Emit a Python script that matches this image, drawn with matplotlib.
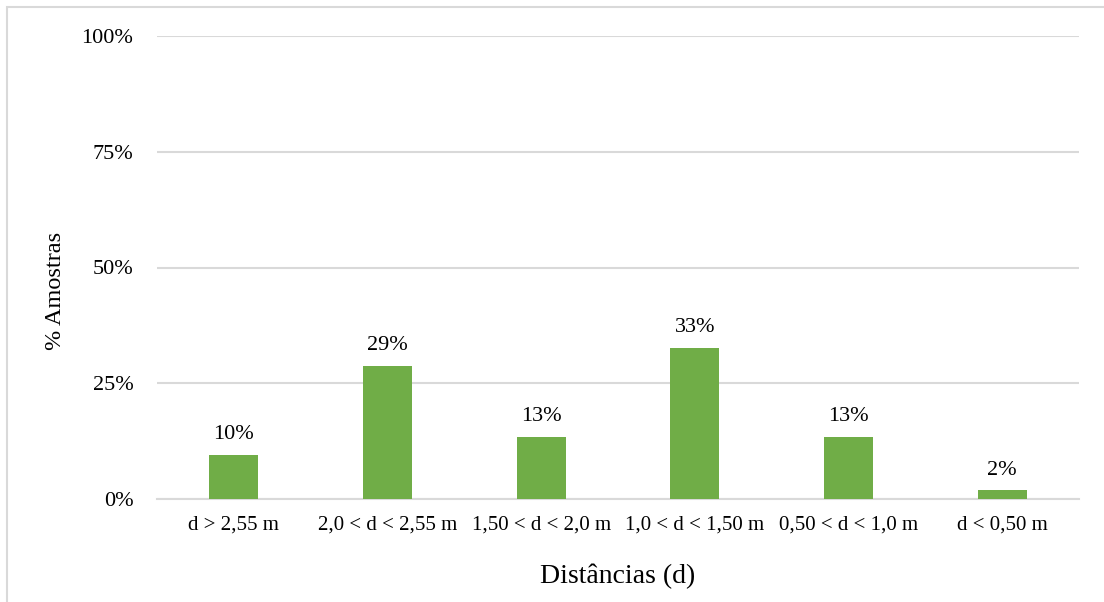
import matplotlib
matplotlib.use("Agg")
import matplotlib.pyplot as plt
from matplotlib.patches import Rectangle
from matplotlib.ticker import FuncFormatter

categories = ["d > 2,55 m", "2,0 < d < 2,55 m", "1,50 < d < 2,0 m",
              "1,0 < d < 1,50 m", "0,50 < d < 1,0 m", "d < 0,50 m"]
shares = [9.6, 28.8, 13.4, 32.7, 13.4, 1.9]   # % of samples
y_ticks = [0, 25, 50, 75, 100]

plt.rcParams["font.family"] = ["Liberation Serif", "DejaVu Serif"]

fig = plt.figure(figsize=(11.04, 6.02), dpi=100)
fig.patch.set_facecolor("white")

# outer frame (only top and left edges fall inside the canvas)
fig.patches.append(Rectangle((7 / 1104, -0.05), 1.2, (1 - 7 / 602) + 0.05,
                             transform=fig.transFigure, fill=False,
                             edgecolor="#d9d9d9", linewidth=1.5, zorder=0))

ax = fig.add_axes([157 / 1104, 1 - 499 / 602, (1079 - 157) / 1104, (499 - 36) / 602])

x = list(range(len(categories)))
bars = ax.bar(x, shares, width=0.32, color="#70ad47", zorder=3)

for xi, v in zip(x, shares):
    ax.text(xi, v + 2.3, f"{v:.0f}%", ha="center", va="bottom", fontsize=16, color="#000000")

ax.set_xlim(-0.5, len(categories) - 0.5)
ax.set_ylim(0, 100)
ax.set_yticks(y_ticks)
ax.yaxis.set_major_formatter(FuncFormatter(lambda v, _: f"{v:.0f}%"))
ax.set_xticks(x)
ax.set_xticklabels(categories, fontsize=15)
ax.tick_params(axis="y", labelsize=16, length=0, pad=17)
ax.tick_params(axis="x", length=0, pad=12)

ax.grid(axis="y", color="#d9d9d9", linewidth=1.5, zorder=0)
for side in ["top", "right", "left"]:
    ax.spines[side].set_visible(False)
ax.spines["bottom"].set_color("#d9d9d9")
ax.spines["bottom"].set_linewidth(1.5)

ax.set_ylabel("% Amostras", fontsize=17.5)
ax.yaxis.set_label_coords(-0.099, 0.45)
ax.set_xlabel("Distâncias (d)", fontsize=20, labelpad=21)

fig.savefig("out.png", dpi=100, facecolor="white")
